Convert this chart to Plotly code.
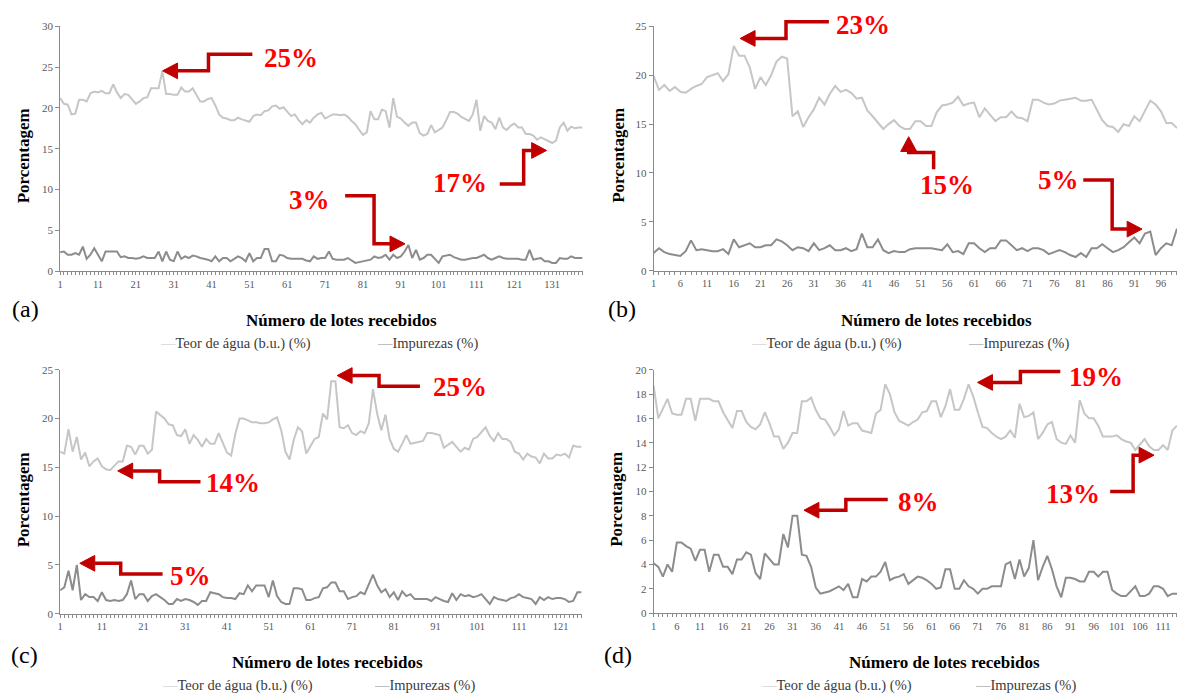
import plotly.graph_objects as go

W, H = 1177, 700

# ---------------- data ----------------
agua_a = [21.2, 20.5, 20.4, 19.2, 19.3, 21.0, 21.0, 20.8, 21.8, 22.0,
          21.9, 22.1, 21.8, 21.8, 22.9, 21.9, 21.2, 21.7, 21.6, 21.0,
          20.5, 20.8, 21.2, 21.3, 22.4, 22.4, 22.4, 24.5, 21.7, 21.7,
          21.6, 21.6, 22.5, 22.0, 22.0, 22.4, 21.6, 20.8, 20.8, 21.1,
          21.2, 20.3, 19.2, 18.8, 18.7, 18.5, 18.5, 18.8, 18.6, 18.4,
          18.3, 19.0, 19.2, 19.1, 19.6, 19.7, 20.2, 20.3, 19.9, 20.1,
          19.6, 19.0, 19.2, 18.5, 18.0,
          18.5, 18.2, 18.8, 19.2, 19.4, 18.7, 19.0, 19.2, 19.2, 19.1,
          19.2, 18.9, 18.4, 18.0, 17.3, 16.7, 17.0, 19.6, 18.6, 18.6,
          19.8, 19.6, 17.6, 21.2, 18.9, 18.7, 18.2, 17.8, 18.2, 18.2,
          16.9, 16.6, 16.8, 17.9, 17.0, 17.3, 17.6, 18.5, 19.5, 19.5,
          19.3, 18.9, 18.6, 18.4, 19.2, 21.0, 17.2, 19.0, 18.4, 18.2,
          17.4, 18.8, 17.6, 17.3, 17.8, 18.1, 17.6, 17.6, 16.8, 16.8,
          16.6, 16.1, 16.4, 16.2, 15.9, 15.7, 16.0, 17.6, 18.2, 17.2,
          17.7, 17.5, 17.6, 17.6]
impurezas_a = [2.3, 2.4, 2.0, 2.0, 2.2, 2.0, 3.0, 1.5, 2.0, 2.8,
               2.0, 1.2, 2.4, 2.4, 2.4, 2.4, 1.7, 1.8, 1.6, 1.6,
               1.5, 1.6, 1.8, 1.6, 1.6, 1.6, 2.4, 1.2, 2.4, 1.4,
               1.2, 2.4, 1.5, 1.8, 1.6, 1.9, 1.8, 1.6, 1.5, 1.4,
               1.2, 1.8, 1.2, 1.6, 1.6, 1.2, 1.5, 1.8, 1.6, 1.2,
               2.2, 1.2, 1.6, 1.6, 2.7, 2.7, 1.2, 1.2, 2.0, 1.9,
               1.6, 1.5, 1.5, 1.5, 1.5, 1.3, 1.2, 1.8, 1.5, 1.6,
               1.6, 2.4, 1.5, 1.4, 1.4, 1.4, 1.6, 1.3, 1.0, 1.1,
               1.2, 1.3, 1.4, 1.8, 1.6, 1.7, 2.0, 1.4, 2.0, 1.6,
               1.8, 2.4, 3.2, 1.6, 2.6, 1.4, 1.6, 2.0, 2.0, 1.5,
               1.0, 1.8, 1.9, 2.0, 1.7, 1.5, 1.4, 1.4, 1.5, 1.6,
               1.6, 1.8, 2.0, 1.6, 1.4, 1.6, 1.8, 1.6, 1.5, 1.5,
               1.5, 1.5, 1.4, 1.4, 2.6, 1.4, 1.5, 1.6, 1.2, 1.2,
               1.0, 1.0, 1.6, 1.5, 1.5, 1.8, 1.6, 1.6, 1.6]

agua_b = [19.9, 18.5, 19.0, 18.4, 18.8, 18.3, 18.2, 18.6, 18.9, 19.1,
          19.8, 20.0, 20.2, 19.4, 20.1, 23.0, 22.0, 22.0, 20.8, 18.6,
          19.8, 19.0, 20.0, 21.4, 21.9, 21.7, 15.8, 16.3, 14.7, 15.7,
          16.5, 17.7, 17.0, 18.1, 18.9, 18.3, 18.5, 18.2, 17.6, 17.7,
          16.4, 15.8, 15.2, 14.5, 15.0, 15.4, 14.8, 14.5, 14.5, 15.3,
          15.3, 14.8, 14.8, 16.2, 16.9, 17.0, 17.2, 17.8, 16.9, 17.1,
          17.2, 15.7, 16.6, 16.0, 15.3, 15.7, 15.7, 16.3, 15.7, 15.6,
          15.3, 17.5, 17.5, 17.2, 17.0, 17.1, 17.4, 17.5, 17.6, 17.7,
          17.4, 17.4, 17.5, 16.4, 15.4, 14.8, 14.7, 14.2, 15.0, 14.8,
          15.8, 15.3, 16.4, 17.4, 17.0, 16.3, 15.1, 15.1, 14.6]
impurezas_b = [1.8, 2.3, 1.9, 1.7, 1.6, 1.5, 2.0, 3.1, 2.1, 2.2,
               2.1, 2.0, 2.0, 2.2, 1.7, 3.2, 2.4, 2.6, 2.8, 2.4,
               2.4, 2.6, 2.6, 3.2, 3.0, 2.6, 2.1, 2.4, 2.3, 2.0,
               2.8, 2.1, 2.3, 2.6, 2.1, 2.1, 2.3, 2.0, 2.2, 3.8,
               2.4, 2.4, 3.2, 2.1, 1.8, 2.0, 1.9, 1.9, 2.2, 2.3,
               2.3, 2.3, 2.3, 2.2, 2.1, 2.7, 1.9, 2.0, 1.7, 2.8,
               2.8, 2.3, 1.9, 2.3, 2.3, 3.1, 3.1, 2.6, 2.1, 2.3,
               2.0, 2.3, 2.3, 2.1, 1.7, 1.9, 2.1, 1.9, 1.6, 1.4,
               1.8, 1.4, 2.3, 2.3, 2.7, 2.3, 1.9, 2.1, 2.4, 2.9,
               3.4, 2.8, 3.8, 4.0, 1.6, 2.3, 2.8, 2.6, 4.3]

agua_c = [16.6, 16.4, 18.9, 16.6, 18.1, 15.8, 16.5, 15.1, 15.6, 15.9,
          15.1, 14.8, 14.7, 15.2, 15.6, 15.6, 17.2, 17.1, 16.3, 17.2,
          17.2, 16.4, 16.8, 20.7, 20.3, 20.0, 19.4, 19.3, 18.3, 18.2,
          18.9, 17.4, 18.3, 17.8, 17.1, 17.9, 17.4, 17.4, 18.5, 17.5,
          16.5, 16.2, 18.4, 20.0, 20.0, 19.8, 19.6, 19.6, 19.5, 19.5,
          19.6, 19.9, 20.1, 18.8, 16.6, 15.8, 17.8, 19.1, 18.7, 16.4,
          17.1, 17.9, 18.1, 20.5, 19.9, 23.8, 23.8, 19.1, 19.0, 19.3,
          18.5, 18.3, 18.7, 18.5, 19.5, 23.0, 20.5, 18.8, 20.4, 17.9,
          16.9, 16.6, 17.4, 18.3, 17.4, 17.5, 17.6, 17.7, 18.5, 18.5,
          18.4, 18.3, 17.0, 17.3, 17.6, 17.1, 16.6, 17.0, 16.8, 17.9,
          18.1, 18.6, 19.1, 18.2, 17.7, 18.5, 17.9, 17.9, 17.6, 16.6,
          16.4, 15.8, 16.4, 16.1, 16.0, 15.4, 16.4, 15.9, 15.9, 16.3,
          16.2, 16.4, 16.0, 17.2, 17.1, 17.1]
impurezas_c = [2.4, 2.7, 4.4, 2.4, 5.0, 1.4, 2.0, 1.7, 1.7, 1.3,
               2.2, 1.4, 1.3, 1.4, 1.3, 1.4, 2.0, 3.4, 1.5, 2.0,
               2.0, 1.3, 1.8, 2.0, 1.7, 1.4, 1.0, 1.0, 1.5, 1.3,
               1.5, 1.4, 1.2, 0.9, 1.3, 1.3, 2.2, 2.1, 2.0, 1.7,
               1.6, 1.6, 1.5, 2.1, 2.0, 2.9, 2.3, 2.9, 2.9, 2.9,
               1.7, 3.4, 1.8, 1.2, 1.0, 1.0, 2.6, 2.6, 2.5, 1.4,
               1.4, 1.6, 1.7, 2.6, 2.7, 3.2, 3.2, 2.3, 2.3, 1.5,
               1.7, 1.8, 2.2, 2.0, 3.0, 4.0, 2.9, 2.2, 2.5, 1.7,
               2.2, 1.4, 2.3, 1.8, 2.0, 1.5, 1.5, 1.5, 1.5, 1.3,
               1.7, 1.5, 1.3, 1.2, 2.1, 1.4, 2.0, 1.8, 1.9, 1.7,
               1.8, 2.0, 1.5, 1.0, 1.7, 1.5, 1.4, 1.3, 1.6, 1.7,
               2.0, 1.7, 1.6, 1.5, 1.0, 1.7, 1.4, 1.7, 1.5, 1.6,
               1.6, 1.5, 1.2, 1.3, 2.2, 2.2]

agua_d = [18.7, 16.0, 16.8, 17.6, 16.4, 16.3, 16.3, 17.6, 17.6, 15.8,
          17.6, 17.6, 17.6, 17.4, 17.4, 16.5, 15.9, 15.2, 16.6, 16.6,
          15.7, 15.3, 15.1, 15.5, 16.5, 15.6, 14.5, 14.5, 13.5, 14.0,
          14.8, 14.8, 17.4, 17.4, 17.7, 16.7, 16.0, 15.9, 15.3, 14.6,
          15.1, 16.6, 15.4, 15.6, 15.6, 15.0, 14.9, 14.8, 16.4, 16.7,
          18.8, 18.0, 16.5, 15.8, 15.6, 15.4, 15.7, 15.9, 16.5, 16.6,
          17.4, 17.4, 16.1, 17.0, 18.4, 16.7, 16.7, 17.6, 18.8, 17.8,
          16.5, 15.3, 15.2, 14.8, 14.5, 14.3, 14.5, 15.0, 14.4, 17.2,
          16.1, 16.2, 16.5, 14.3, 14.8, 15.5, 15.7, 14.3, 14.0, 13.9,
          14.6, 14.0, 17.5, 16.4, 16.0, 16.0, 15.4, 14.5, 14.5, 14.5,
          14.6, 14.3, 14.1, 14.0, 13.4, 13.9, 14.3, 13.7, 13.4, 13.4,
          13.8, 13.4, 15.0, 15.4]
impurezas_d = [4.1, 3.8, 3.0, 4.0, 3.4, 5.8, 5.8, 5.5, 5.3, 4.3,
               5.2, 5.2, 3.4, 4.8, 4.8, 3.8, 3.8, 3.2, 4.4, 4.4,
               5.0, 4.8, 3.3, 2.8, 4.9, 4.4, 4.0, 4.0, 6.5, 5.4,
               8.0, 8.0, 4.8, 4.7, 3.8, 2.1, 1.6, 1.7, 1.8, 2.0,
               2.2, 1.9, 2.4, 1.3, 1.3, 2.8, 2.6, 3.0, 3.0, 3.4,
               4.2, 2.7, 2.9, 3.0, 3.2, 2.4, 2.7, 3.0, 2.9, 2.7,
               2.4, 2.0, 2.1, 3.6, 3.6, 2.0, 2.0, 2.7, 2.2, 2.0,
               1.6, 2.0, 2.0, 2.2, 2.2, 2.2, 4.0, 4.2, 2.8, 4.4,
               3.0, 3.7, 6.0, 2.7, 3.8, 4.7, 3.6, 2.2, 1.3, 2.9,
               2.9, 2.8, 2.6, 2.6, 3.4, 3.4, 3.0, 3.4, 3.4, 1.9,
               1.6, 1.4, 1.4, 1.8, 2.2, 1.4, 1.4, 1.6, 2.2, 2.2,
               2.0, 1.4, 1.6, 1.6]

serie_agua = "Teor de água (b.u.) (%)"
serie_imp = "Impurezas (%)"
titulo_x = "Número de lotes recebidos"
titulo_y = "Porcentagem"

# ---------------- styling ----------------
SERIF = "Liberation Serif, Times New Roman, serif"
C_AGUA = "#C6C6C6"
C_IMP = "#8C8C8C"
C_AXIS = "#8A8A8A"
C_TICK = "#595959"
RED_TXT = "#FF0000"
RED_ARR = "#C00000"


def px(x, y):
    return x / W, 1 - y / H


panels = [
    dict(lbl="(a)", agua=agua_a, imp=impurezas_a, xpx=(57.3, 581), ypx=(20.7, 269.7), ymax=30, ydt=5, xdt=10,
         lblpos=(23, 308), ytit=(20, 152), xtit=(339, 320), leg=((155, 343), (373, 343))),
    dict(lbl="(b)", agua=agua_b, imp=impurezas_b, xpx=(652.3, 1177), ypx=(20.7, 269.3), ymax=25, ydt=5, xdt=5,
         lblpos=(621, 308), ytit=(617, 152), xtit=(936, 320), leg=((748, 343), (965, 343))),
    dict(lbl="(c)", agua=agua_c, imp=impurezas_c, xpx=(57.3, 580), ypx=(370, 618.3), ymax=25, ydt=5, xdt=10,
         lblpos=(22, 660), ytit=(20, 502), xtit=(325, 668), leg=((157, 691), (370, 691))),
    dict(lbl="(d)", agua=agua_d, imp=impurezas_d, xpx=(652.3, 1177), ypx=(370, 617.7), ymax=20, ydt=2, xdt=5,
         lblpos=(617, 660), ytit=(615, 502), xtit=(944, 668), leg=((758, 691), (972, 691))),
]

fig = go.Figure()
layout = dict(
    width=W, height=H, margin=dict(l=0, r=0, t=0, b=0, pad=0),
    paper_bgcolor="white", plot_bgcolor="white", showlegend=False,
    font=dict(family=SERIF, color="#000000"),
)
annotations = []
shapes = []

for i, p in enumerate(panels):
    n = "" if i == 0 else str(i + 1)
    xa, ya = "x" + n, "y" + n
    lotes = list(range(1, len(p["agua"]) + 1))
    fig.add_trace(go.Scatter(x=lotes, y=p["agua"], mode="lines", name=serie_agua,
                             line=dict(color=C_AGUA, width=2), xaxis=xa, yaxis=ya))
    fig.add_trace(go.Scatter(x=lotes, y=p["imp"], mode="lines", name=serie_imp,
                             line=dict(color=C_IMP, width=2), xaxis=xa, yaxis=ya))
    x0, x1 = p["xpx"]
    y0, y1 = p["ypx"]
    layout["xaxis" + n] = dict(
        domain=[x0 / W, min(x1 / W, 1.0)], anchor=ya, range=[1, len(lotes)],
        showgrid=False, zeroline=False, showline=True, linecolor=C_AXIS, linewidth=1,
        ticks="outside", ticklen=3, tickcolor=C_AXIS, tick0=1, dtick=p["xdt"],
        ticklabeloverflow="allow",
        tickfont=dict(family=SERIF, size=10.5, color=C_TICK),
        minor=dict(ticks="outside", ticklen=3, tickcolor=C_AXIS, tick0=1, dtick=1, showgrid=False),
    )
    layout["yaxis" + n] = dict(
        domain=[1 - y1 / H, 1 - y0 / H], anchor=xa, range=[0, p["ymax"]],
        showgrid=False, zeroline=False, showline=True, linecolor=C_AXIS, linewidth=1,
        ticks="outside", ticklen=4, tickcolor=C_AXIS, tick0=0, dtick=p["ydt"],
        tickfont=dict(family=SERIF, size=11, color=C_TICK),
    )
    # panel letter
    ax, ay = px(*p["lblpos"])
    annotations.append(dict(x=ax, y=ay, xref="paper", yref="paper", text=p["lbl"], showarrow=False,
                            xanchor="center", yanchor="middle", font=dict(family=SERIF, size=24, color="#000")))
    # y title
    ax, ay = px(*p["ytit"])
    annotations.append(dict(x=ax, y=ay, xref="paper", yref="paper", text="<b>" + titulo_y + "</b>",
                            textangle=-90, showarrow=False, xanchor="center", yanchor="middle",
                            font=dict(family=SERIF, size=17, color="#000")))
    # x title
    ax, ay = px(*p["xtit"])
    annotations.append(dict(x=ax, y=ay, xref="paper", yref="paper", text="<b>" + titulo_x + "</b>",
                            showarrow=False, xanchor="center", yanchor="middle",
                            font=dict(family=SERIF, size=17, color="#000")))
    # legend entries
    for (lx, ly), name, col in zip(p["leg"], [serie_agua, serie_imp], [C_AGUA, C_IMP]):
        ax, ay = px(lx, ly)
        annotations.append(dict(x=ax, y=ay, xref="paper", yref="paper",
                                text=f'<span style="color:{col}">—</span>{name}',
                                showarrow=False, xanchor="left", yanchor="middle",
                                font=dict(family=SERIF, size=14.5, color="#3A3A3A")))

# ---------------- red call-outs ----------------
callouts = [
    ("25%", (289, 53), [(250, 49), (206, 49), (206, 66), (160, 66)]),
    ("3%", (307, 197), [(343, 193), (372, 193), (372, 242), (403, 242)]),
    ("17%", (458, 180), [(498, 181), (522, 181), (522, 147), (545, 147)]),
    ("23%", (862, 19), [(828, 16), (785, 16), (785, 33), (739, 33)]),
    ("15%", (946, 182), [(933, 166), (933, 149), (908, 149), (908, 133)]),
    ("5%", (1058, 177), [(1083, 177), (1112, 177), (1112, 227), (1142, 227)]),
    ("25%", (458, 388), [(418, 387), (377, 387), (377, 376), (335, 376)]),
    ("14%", (231, 485), [(198, 484), (157, 484), (157, 473), (115, 473)]),
    ("5%", (188, 580), [(160, 578), (118, 578), (118, 567), (77, 567)]),
    ("8%", (918, 505), [(887, 502), (845, 502), (845, 513), (803, 513)]),
    ("19%", (1096, 377), [(1060, 372), (1020, 372), (1020, 383), (977, 383)]),
    ("13%", (1073, 497), [(1110, 494), (1133, 494), (1133, 457), (1154, 457)]),
]

HEAD_L, HEAD_W = 15, 8
for txt, (tx, ty), pts in callouts:
    ax, ay = px(tx, ty)
    annotations.append(dict(x=ax, y=ay, xref="paper", yref="paper", text="<b>" + txt + "</b>",
                            showarrow=False, xanchor="center", yanchor="middle",
                            font=dict(family=SERIF, size=27, color=RED_TXT)))
    (bx, by), (ex, ey) = pts[-2], pts[-1]
    dx, dy = ex - bx, ey - by
    ln = (dx * dx + dy * dy) ** 0.5
    ux, uy = dx / ln, dy / ln
    base = (ex - ux * HEAD_L, ey - uy * HEAD_L)
    line_pts = pts[:-1] + [base]
    path = "M " + " L ".join("{:.5f},{:.5f}".format(*px(x, y)) for x, y in line_pts)
    shapes.append(dict(type="path", xref="paper", yref="paper", path=path,
                       line=dict(color=RED_ARR, width=3.5)))
    perp = (-uy, ux)
    tri = [(ex, ey), (base[0] + perp[0] * HEAD_W, base[1] + perp[1] * HEAD_W),
           (base[0] - perp[0] * HEAD_W, base[1] - perp[1] * HEAD_W)]
    tpath = "M " + " L ".join("{:.5f},{:.5f}".format(*px(x, y)) for x, y in tri) + " Z"
    shapes.append(dict(type="path", xref="paper", yref="paper", path=tpath,
                       fillcolor=RED_ARR, line=dict(color=RED_ARR, width=1)))

layout["annotations"] = annotations
layout["shapes"] = shapes
fig.update_layout(**layout)
fig.write_html(
    "out.html",
    config={"displayModeBar": False},
    post_script="document.body.style.margin='0';document.body.style.overflow='hidden';",
)
